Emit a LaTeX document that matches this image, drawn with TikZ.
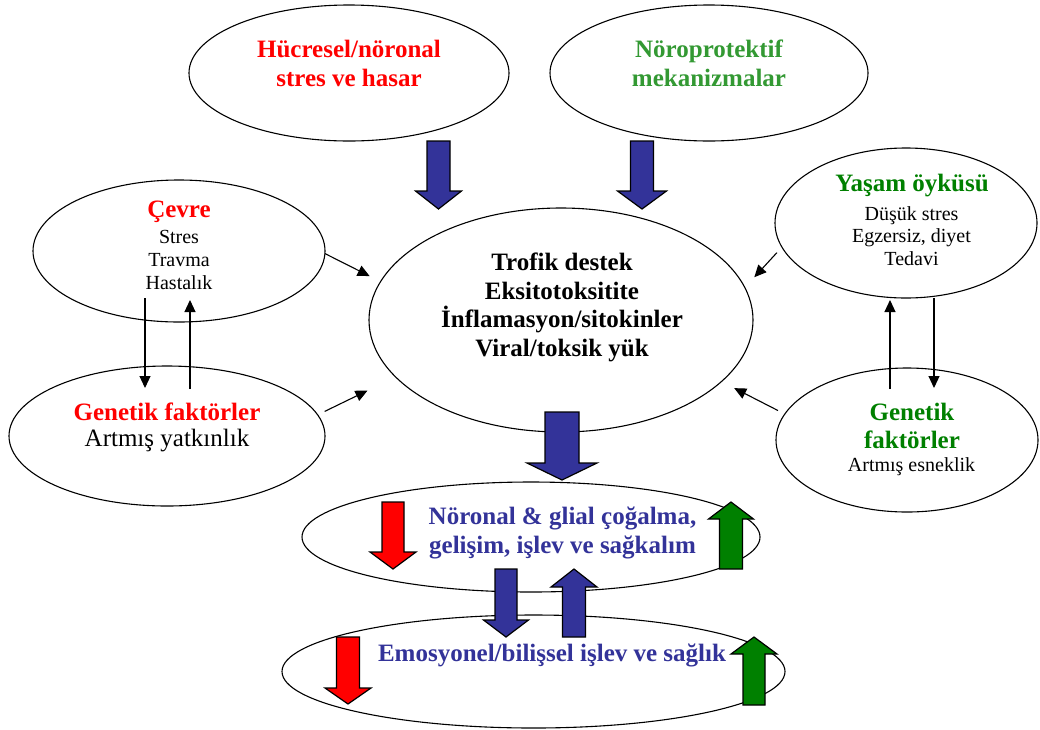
\documentclass[tikz,border=0pt]{standalone}
\usepackage{fontspec}
\setmainfont{Liberation Serif}
\usetikzlibrary{shapes.geometric,arrows.meta}
\definecolor{navy}{HTML}{333399}
\definecolor{rd}{HTML}{FF0000}
\definecolor{lgreen}{HTML}{339933}
\definecolor{dgreen}{HTML}{008000}
\tikzset{
  pics/barrow/.style n args={5}{code={
    \filldraw[fill=#5, draw=black, line width=1.2pt, line join=miter]
      (0,0) -- (-#2,-#3) -- (-#1,-#3) -- (-#1,-#4) -- (#1,-#4) -- (#1,-#3) -- (#2,-#3) -- cycle;
  }}
}
\begin{document}
\begin{tikzpicture}[x=1pt,y=-1pt,
  oval/.style={draw, ellipse, line width=1.1pt, inner sep=0pt, outer sep=0pt},
  bigb/.style={font=\fontsize{25}{29}\selectfont\bfseries, align=center, inner sep=0pt},
  bigr/.style={font=\fontsize{25}{29}\selectfont, align=center, inner sep=0pt},
  smalltxt/.style={font=\fontsize{20}{23}\selectfont, align=center, inner sep=0pt},
  arr/.style={-{Triangle[length=12pt,width=11pt]}, line width=1.1pt}
]
\fill[white] (0,0) rectangle (1040,729);
\useasboundingbox (0,0) rectangle (1040,729);

% ellipses
\node[oval, minimum width=320, minimum height=136] (hucre) at (349,73) {};
\node[oval, minimum width=318, minimum height=136] (noro) at (709,73) {};
\node[oval, minimum width=292, minimum height=142] (cevre) at (179,251) {};
\node[oval, minimum width=316, minimum height=140] (genL) at (167,436) {};
\node[oval, minimum width=384, minimum height=224] (center) at (561,320) {};
\node[oval, minimum width=262, minimum height=150] (yasam) at (906,223) {};
\node[oval, minimum width=262, minimum height=144] (genR) at (907,440) {};
\node[oval, minimum width=458, minimum height=110] (noronal) at (531,537) {};
\node[oval, minimum width=503, minimum height=113] (emo) at (533.5,671.5) {};

% texts
\node[bigb, text=rd] (t-hucre) at (349,63) {Hücresel/nöronal\\stres ve hasar};
\node[bigb, text=lgreen] (t-noro) at (709,63) {Nöroprotektif\\mekanizmalar};
\node[bigb, text=rd] (t-cevre) at (179,212) {Çevre};
\node[smalltxt] (b-cevre) at (179,260) {Stres\\Travma\\Hastalık};
\node[bigb, text=rd] (t-genL) at (167,412) {Genetik faktörler};
\node[bigr] (b-genL) at (167,441) {Artmış yatkınlık};
\node[bigb, font=\fontsize{25}{28.5}\selectfont\bfseries] (t-center) at (562,307.5) {Trofik destek\\Eksitotoksitite\\İnflamasyon/sitokinler\\Viral/toksik yük};
\node[bigb, text=dgreen] (t-yasam) at (912,186) {Yaşam öyküsü};
\node[smalltxt, font=\fontsize{20}{22.5}\selectfont] (b-yasam) at (911.5,236) {Düşük stres\\Egzersiz, diyet\\Tedavi};
\node[bigb, text=dgreen, font=\fontsize{25}{28}\selectfont\bfseries] (t-genR) at (912,426) {Genetik\\faktörler};
\node[smalltxt] (b-genR) at (911.5,467) {Artmış esneklik};
\node[bigb, text=navy] (t-noronal) at (562.5,532.5) {Nöronal \& glial çoğalma,\\gelişim, işlev ve sağkalım};
\node[bigb, text=navy] (t-emo) at (552,655) {Emosyonel/bilişsel işlev ve sağlık};

% thin arrows
\draw[arr, shorten >=12.3pt] (cevre.-1.6) -- (center.168.3);
\draw[arr, shorten <=7.8pt, shorten >=31.3pt] (genL.8.2) -- (center.199.3);
\draw[arr, shorten <=7.5pt, shorten >=14.1pt] (yasam.191.3) -- (center.10.5);
\draw[arr, shorten <=7.7pt, shorten >=14.4pt] (genR.168.7) -- (center.-21.8);
\draw[arr] ([xshift=-34pt,yshift=-47pt]cevre.center) -- ([xshift=-22pt,yshift=48pt]genL.center);
\draw[arr] ([xshift=23pt,yshift=47pt]genL.center) -- ([xshift=11pt,yshift=-49pt]cevre.center);
\draw[arr] ([xshift=-17pt,yshift=51pt]genR.center) -- ([xshift=-16pt,yshift=-77pt]yasam.center);
\draw[arr] ([xshift=28pt,yshift=-75pt]yasam.center) -- ([xshift=27pt,yshift=52pt]genR.center);

% block arrows
\pic at (438.5,209) {barrow={11.5}{23}{18}{68}{navy}};
\pic at (642,209) {barrow={11.5}{24.5}{18}{68}{navy}};
\pic at (562,480) {barrow={17}{35}{17}{68}{navy}};
\pic at (393,569) {barrow={11}{23}{17}{67}{rd}};
\pic[yscale=-1] at (731,502) {barrow={11.5}{22.5}{17}{67}{dgreen}};
\pic at (506,637) {barrow={11}{22.5}{17}{68}{navy}};
\pic[yscale=-1] at (574,569) {barrow={11.5}{23}{18}{68}{navy}};
\pic at (348,704) {barrow={11.5}{23}{16}{67}{rd}};
\pic[yscale=-1] at (754,637) {barrow={11}{23}{17}{68}{dgreen}};
\end{tikzpicture}
\end{document}
